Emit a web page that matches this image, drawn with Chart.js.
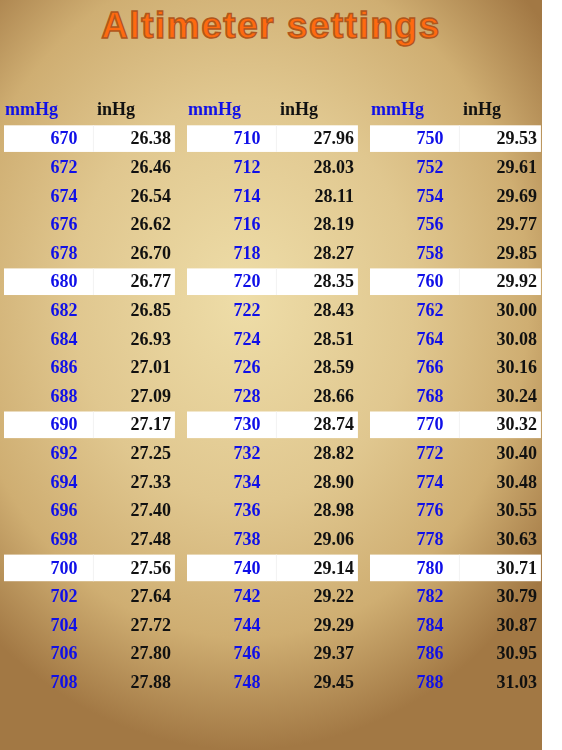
<!DOCTYPE html>
<html><head><meta charset="utf-8">
<script src="https://cdn.jsdelivr.net/npm/chart.js@4/dist/chart.umd.min.js"></script>
<style>
html,body{margin:0;padding:0;background:#fff;}
#wrap{position:relative;width:562px;height:750px;overflow:hidden;}
#paper{position:absolute;left:0;top:0;width:542px;height:750px;
 background:radial-gradient(ellipse 70% 60% at 45% 40%, #eedda8 0%, #e0c78f 45%, #cfae72 75%, #a27844 100%);}
#title{position:absolute;left:0;width:542px;top:5px;text-align:center;font:900 37px "Liberation Sans",Arial,sans-serif;
 color:#ff6a10;-webkit-text-stroke:1.5px #b0561c;letter-spacing:1.5px;}
canvas{position:absolute;left:0;top:0;}
</style></head><body>
<div id="wrap"><div id="paper"></div><div id="title">Altimeter settings</div>
<canvas id="c" width="562" height="750"></canvas></div>
<script>
const headers = ['mmHg', 'inHg'];
const mmHg = [
  [670,672,674,676,678,680,682,684,686,688,690,692,694,696,698,700,702,704,706,708],
  [710,712,714,716,718,720,722,724,726,728,730,732,734,736,738,740,742,744,746,748],
  [750,752,754,756,758,760,762,764,766,768,770,772,774,776,778,780,782,784,786,788]
];
const inHg = [
  ['26.38','26.46','26.54','26.62','26.70','26.77','26.85','26.93','27.01','27.09','27.17','27.25','27.33','27.40','27.48','27.56','27.64','27.72','27.80','27.88'],
  ['27.96','28.03','28.11','28.19','28.27','28.35','28.43','28.51','28.59','28.66','28.74','28.82','28.90','28.98','29.06','29.14','29.22','29.29','29.37','29.45'],
  ['29.53','29.61','29.69','29.77','29.85','29.92','30.00','30.08','30.16','30.24','30.32','30.40','30.48','30.55','30.63','30.71','30.79','30.87','30.95','31.03']
];
const highlightRows = [0, 5, 10, 15];

// table drawn through the chart's x (group) and y (row) scales
const tablePlugin = {
  id: 'table',
  afterDraw(chart) {
    const ctx = chart.ctx, x = chart.scales.x, y = chart.scales.y;
    const rowH = Math.abs(y.getPixelForValue(1) - y.getPixelForValue(0));
    ctx.save();
    ctx.textBaseline = 'middle';
    const font = 'bold 18px "Liberation Serif", serif';
    mmHg.forEach((col, g) => {
      const gx = x.getPixelForValue(g);
      const gw = x.getPixelForValue(g + 0.934) - gx;
      const split = gx + gw * 0.52;
      // header
      ctx.font = font;
      ctx.textAlign = 'left';
      const hy = y.getPixelForValue(-1);
      ctx.fillStyle = '#1010e8'; ctx.fillText(headers[0], gx + 1, hy);
      ctx.fillStyle = '#111'; ctx.fillText(headers[1], split + 4, hy);
      col.forEach((v, r) => {
        const cy = y.getPixelForValue(r);
        if (highlightRows.includes(r)) {
          ctx.fillStyle = '#fff';
          ctx.fillRect(gx, cy - rowH / 2 + 1, gx + gw - gx, rowH - 2);
          ctx.fillStyle = '#f2f2f2';
          ctx.fillRect(split, cy - rowH / 2 + 1, 1, rowH - 2);
        }
        ctx.font = font;
        ctx.textAlign = 'right';
        ctx.fillStyle = '#1010e8'; ctx.fillText(String(v), gx + gw * 0.43, cy + 1);
        ctx.fillStyle = '#111'; ctx.fillText(inHg[g][r], gx + gw - 4, cy + 1);
      });
    });
    ctx.restore();
  }
};

new Chart(document.getElementById('c'), {
  type: 'scatter',
  data: { datasets: [{ data: [], pointRadius: 0 }] },
  options: {
    responsive: false, animation: false, events: [],
    layout: { padding: { left: 4, right: 9, top: 110, bottom: 39 } },
    scales: {
      x: { type: 'linear', min: 0, max: 3, display: false },
      y: { type: 'linear', min: -1, max: 20, reverse: true, display: false }
    },
    plugins: { legend: { display: false }, tooltip: { enabled: false } }
  },
  plugins: [tablePlugin]
});
</script>
</body></html>
